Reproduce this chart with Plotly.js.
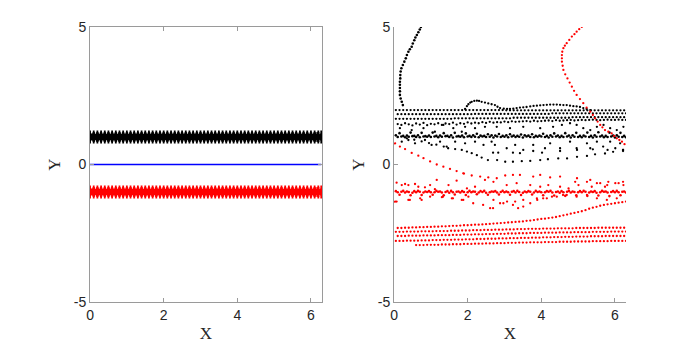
<!DOCTYPE html>
<html>
<head>
<meta charset="utf-8">
<script src="https://cdn.plot.ly/plotly-3.0.1.min.js"></script>
<style>
  html, body { margin: 0; padding: 0; background: #fff; }
  #chart { width: 692px; height: 347px; }
</style>
</head>
<body>
<div id="chart"></div>
<script>
"use strict";

// ---- left panel: x grid and the three flat series
var xLeft = [0,0.1,0.2,0.3,0.4,0.5,0.6,0.7,0.8,0.9,
  1.0,1.1,1.2,1.3,1.4,1.5,1.6,1.7,1.8,1.9,
  2.0,2.1,2.2,2.3,2.4,2.5,2.6,2.7,2.8,2.9,
  3.0,3.1,3.2,3.3,3.4,3.5,3.6,3.7,3.8,3.9,
  4.0,4.1,4.2,4.3,4.4,4.5,4.6,4.7,4.8,4.9,
  5.0,5.1,5.2,5.3,5.4,5.5,5.6,5.7,5.8,5.9,
  6.0,6.1,6.2,6.28];
var yLeftBlack = [1,1,1,1,1,1,1,1,1,1, 1,1,1,1,1,1,1,1,1,1, 1,1,1,1,1,1,1,1,1,1,
  1,1,1,1,1,1,1,1,1,1, 1,1,1,1,1,1,1,1,1,1, 1,1,1,1,1,1,1,1,1,1, 1,1,1,1];
var yLeftBlue = [0,0,0,0,0,0,0,0,0,0, 0,0,0,0,0,0,0,0,0,0, 0,0,0,0,0,0,0,0,0,0,
  0,0,0,0,0,0,0,0,0,0, 0,0,0,0,0,0,0,0,0,0, 0,0,0,0,0,0,0,0,0,0, 0,0,0,0];
var yLeftRed = [-1,-1,-1,-1,-1,-1,-1,-1,-1,-1, -1,-1,-1,-1,-1,-1,-1,-1,-1,-1, -1,-1,-1,-1,-1,-1,-1,-1,-1,-1,
  -1,-1,-1,-1,-1,-1,-1,-1,-1,-1, -1,-1,-1,-1,-1,-1,-1,-1,-1,-1, -1,-1,-1,-1,-1,-1,-1,-1,-1,-1, -1,-1,-1,-1];

// ---- right panel: two x grids shared by the dotted rows
var xA = [0.05,0.15,0.25,0.35,0.45,0.55,0.65,0.75,0.85,0.95,
  1.05,1.15,1.25,1.35,1.45,1.55,1.65,1.75,1.85,1.95,
  2.05,2.15,2.25,2.35,2.45,2.55,2.65,2.75,2.85,2.95,
  3.05,3.15,3.25,3.35,3.45,3.55,3.65,3.75,3.85,3.95,
  4.05,4.15,4.25,4.35,4.45,4.55,4.65,4.75,4.85,4.95,
  5.05,5.15,5.25,5.35,5.45,5.55,5.65,5.75,5.85,5.95,
  6.05,6.15,6.25];
var xB = [0.1,0.2,0.3,0.4,0.5,0.6,0.7,0.8,0.9,1.0,
  1.1,1.2,1.3,1.4,1.5,1.6,1.7,1.8,1.9,2.0,
  2.1,2.2,2.3,2.4,2.5,2.6,2.7,2.8,2.9,3.0,
  3.1,3.2,3.3,3.4,3.5,3.6,3.7,3.8,3.9,4.0,
  4.1,4.2,4.3,4.4,4.5,4.6,4.7,4.8,4.9,5.0,
  5.1,5.2,5.3,5.4,5.5,5.6,5.7,5.8,5.9,6.0,
  6.1,6.2,6.3];

// black rows (upper)
var blackRow1 = [1.98,1.98,1.98,1.98,1.98,1.98,1.98,1.98,1.98,1.98,
  1.98,1.98,1.98,1.98,1.98,1.98,1.98,1.98,1.98,1.98,
  1.98,1.98,1.98,1.98,1.98,1.98,1.98,1.98,1.98,1.98,
  1.97,1.97,1.97,1.97,1.97,1.97,1.97,1.97,1.97,1.97,
  1.97,1.97,1.97,1.97,1.97,1.97,1.97,1.97,1.97,1.97,
  1.97,1.97,1.97,1.97,1.97,1.97,1.97,1.97,1.97,1.97,
  1.97,1.97,1.97];
var blackRow2 = [1.83,1.83,1.83,1.83,1.83,1.83,1.83,1.83,1.83,1.83,
  1.83,1.83,1.83,1.83,1.83,1.83,1.83,1.83,1.83,1.83,
  1.83,1.84,1.84,1.84,1.84,1.84,1.84,1.84,1.84,1.84,
  1.84,1.84,1.84,1.84,1.84,1.84,1.84,1.84,1.84,1.84,
  1.84,1.84,1.86,1.86,1.86,1.86,1.86,1.86,1.86,1.86,
  1.86,1.86,1.86,1.86,1.86,1.86,1.86,1.86,1.86,1.86,
  1.86,1.86,1.86];
var blackRow3 = [1.66,1.66,1.66,1.66,1.66,1.66,1.66,1.66,1.66,1.66,
  1.66,1.66,1.66,1.66,1.66,1.66,1.68,1.68,1.68,1.68,
  1.68,1.68,1.68,1.68,1.68,1.68,1.68,1.68,1.68,1.68,
  1.68,1.68,1.70,1.70,1.70,1.70,1.70,1.70,1.70,1.70,
  1.70,1.70,1.70,1.70,1.70,1.70,1.70,1.70,1.72,1.72,
  1.72,1.72,1.72,1.72,1.72,1.72,1.72,1.72,1.72,1.72,
  1.72,1.72,1.72];
var blackRow4 = [1.47,1.44,1.50,1.46,1.42,1.49,1.45,1.51,1.43,1.48,
  1.46,1.50,1.44,1.49,1.47,1.52,1.45,1.50,1.48,1.53,
  1.49,1.52,1.50,1.54,1.51,1.55,1.52,1.54,1.53,1.56,
  1.54,1.57,1.55,1.56,1.57,1.58,1.56,1.59,1.57,1.58,
  1.59,1.60,1.58,1.61,1.59,1.60,1.61,1.62,1.60,1.61,
  1.62,1.61,1.62,1.63,1.62,1.61,1.62,1.63,1.62,1.62,
  1.63,1.62,1.62];

// black dense band near y = 1
var blackBandA = [1.06,1.14,1.04,1.05,1.16,1.04,1.06,1.15,1.03,1.05,
  1.16,1.04,1.05,1.14,1.04,1.06,1.15,1.03,1.05,1.13,
  1.04,1.06,1.12,1.05,1.04,1.10,1.06,1.05,1.11,1.04,
  1.06,1.10,1.05,1.04,1.09,1.06,1.05,1.10,1.04,1.05,
  1.12,1.04,1.06,1.13,1.05,1.04,1.14,1.05,1.06,1.15,
  1.04,1.05,1.16,1.04,1.06,1.17,1.05,1.04,1.16,1.05,
  1.06,1.15,1.04];
var blackBandB = [1.00,1.02,0.99,1.01,1.03,1.00,0.99,1.02,1.01,1.00,
  1.02,0.99,1.01,1.03,1.00,0.98,1.02,1.01,0.99,1.02,
  1.00,1.01,0.99,1.02,1.00,1.01,0.98,1.02,1.00,1.01,
  0.99,1.02,1.00,1.01,0.98,1.02,1.00,0.99,1.01,1.02,
  1.00,0.98,1.01,1.02,0.99,1.00,1.02,0.98,1.01,1.00,
  0.99,1.02,1.00,0.98,1.01,1.02,0.99,1.00,1.02,0.98,
  1.01,1.00,0.99];

// black curve rising out of the top-left
var blackCurveX = [0.24,0.21,0.18,0.16,0.16,0.16,0.16,0.16,0.17,0.17,
  0.18,0.20,0.24,0.28,0.32,0.35,0.39,0.43,0.48,0.51,0.55,0.58,0.62,0.66,0.70,0.73];
var blackCurveY = [2.16,2.28,2.40,2.53,2.66,2.78,2.90,3.01,3.13,3.25,
  3.38,3.50,3.62,3.74,3.86,3.98,4.10,4.19,4.28,4.40,4.52,4.62,4.71,4.81,4.91,5.00];

// black hump above the rows
var blackHumpX = [1.93,1.98,2.02,2.07,2.11,2.18,2.25,2.31,2.38,2.47,
  2.56,2.65,2.74,2.81,2.88,2.98,3.07,3.15,3.24,3.33,
  3.42,3.51,3.60,3.70,3.79,3.88,3.97,4.06,4.15,4.24,
  4.33,4.42,4.51,4.60,4.69,4.78,4.87,4.96,5.05,5.14,5.23,5.33];
var blackHumpY = [2.02,2.12,2.19,2.25,2.28,2.31,2.32,2.31,2.28,2.25,
  2.22,2.19,2.16,2.10,2.05,2.03,2.02,2.02,2.03,2.05,
  2.07,2.08,2.09,2.11,2.13,2.14,2.15,2.16,2.17,2.18,
  2.18,2.18,2.17,2.16,2.16,2.14,2.12,2.11,2.09,2.05,2.02,1.98];

// black curves below the band
var blackLowX = [0.35,0.55,0.75,0.95,1.15,1.35,1.47,1.66,1.84,1.98,
  2.11,2.25,2.38,2.55,2.80,3.02,3.23,3.47,3.70,3.97,
  4.18,4.46,4.70,4.97,5.24,5.46,5.73,5.95,6.22,
  2.69,2.83,3.23,3.42,3.78,4.02,4.51,4.97,5.40,5.80,6.22];
var blackLowY = [0.95,0.90,0.84,0.78,0.72,0.65,0.59,0.56,0.53,0.47,
  0.41,0.34,0.25,0.16,0.16,0.10,0.10,0.12,0.13,0.16,
  0.19,0.22,0.22,0.28,0.31,0.37,0.40,0.46,0.49,
  0.43,0.43,0.43,0.41,0.49,0.43,0.49,0.53,0.55,0.53,0.53];

// loose black dots round the band
var blackLooseX = [2.74,3.06,3.29,3.51,3.78,4.10,4.24,4.51,4.78,4.96,5.24,5.33,5.51,5.68,5.87,6.01,6.14,6.22,
  2.79,3.15,3.51,3.97,4.32,4.56,4.78,4.96,5.14,5.33,5.51,5.69,5.87,6.05,6.23,
  0.16,0.48,0.80,1.11,1.34,1.61,1.84,1.93,2.20,2.47,
  0.21,0.39,0.57,0.84,1.02,1.25,1.43,1.66,1.93,2.20,2.43,2.65];
var blackLooseY = [0.71,0.59,0.71,0.53,0.71,0.59,0.77,0.59,0.83,0.59,0.77,0.59,0.83,0.65,0.83,0.59,0.77,0.53,
  1.37,1.32,1.37,1.32,1.37,1.44,1.50,1.44,1.32,1.25,1.37,1.44,1.32,1.25,1.37,
  1.32,1.25,1.32,1.19,1.44,1.32,1.19,1.37,1.32,1.37,
  0.83,0.89,0.77,0.89,0.71,0.83,0.65,0.83,0.77,0.83,0.71,0.83];

// red curve coming down from the top right
var redCurveX = [5.10,5.03,4.96,4.90,4.83,4.76,4.69,4.64,4.60,4.57,
  4.56,4.56,4.56,4.58,4.60,4.65,4.71,4.77,4.83,4.89,
  4.96,5.05,5.14,5.23,5.33,5.40,5.46,5.53,5.60,5.66,
  5.73,5.82,5.91,5.98,6.05,6.12,6.19,6.26];
var redCurveY = [5.01,4.92,4.83,4.74,4.65,4.53,4.41,4.32,4.23,4.10,
  3.98,3.86,3.74,3.59,3.44,3.28,3.13,2.98,2.83,2.68,
  2.53,2.38,2.23,2.07,1.92,1.80,1.68,1.56,1.44,1.35,
  1.25,1.19,1.13,1.04,0.95,0.89,0.83,0.74];

// red curve falling from the left edge
var redFallX = [0.03,0.16,0.30,0.48,0.66,0.80,0.98,1.16,1.34,1.52,
  1.70,1.90,2.11,2.34,2.56,2.79,3.02,3.23,3.42,3.78,
  3.97,4.24,4.51,4.97,5.33,5.60,5.79,6.01,6.22];
var redFallY = [0.77,0.65,0.56,0.42,0.32,0.23,0.11,0.00,-0.08,-0.16,
  -0.24,-0.33,-0.40,-0.44,-0.47,-0.50,-0.40,-0.38,-0.38,-0.44,
  -0.38,-0.47,-0.44,-0.50,-0.56,-0.68,-0.75,-0.68,-0.63];

// red dense band near y = -1
var redBandA = [-0.97,-1.10,-0.96,-0.98,-1.12,-0.97,-0.96,-1.11,-0.98,-0.97,
  -1.10,-0.96,-0.98,-1.12,-0.97,-0.96,-1.09,-0.98,-0.97,-1.11,
  -0.96,-0.98,-1.08,-0.97,-0.96,-1.10,-0.98,-0.97,-1.09,-0.96,
  -0.98,-1.10,-0.97,-0.96,-1.11,-0.98,-0.97,-1.09,-0.96,-0.98,
  -1.12,-0.97,-0.96,-1.13,-0.98,-0.97,-1.14,-0.96,-0.98,-1.12,
  -0.97,-0.96,-1.14,-0.98,-0.97,-1.13,-0.96,-0.98,-1.15,-0.97,
  -0.96,-1.12,-0.98];
var redBandB = [-1.01,-0.99,-1.02,-1.00,-1.03,-1.01,-0.99,-1.02,-1.00,-1.01,
  -1.01,-0.99,-1.02,-1.00,-1.03,-1.01,-0.99,-1.02,-1.00,-1.01,
  -1.01,-0.99,-1.02,-1.00,-1.03,-1.01,-0.99,-1.02,-1.00,-1.01,
  -1.01,-0.99,-1.02,-1.00,-1.03,-1.01,-0.99,-1.02,-1.00,-1.01,
  -1.01,-0.99,-1.02,-1.00,-1.03,-1.01,-0.99,-1.02,-1.00,-1.01,
  -1.01,-0.99,-1.02,-1.00,-1.03,-1.01,-0.99,-1.02,-1.00,-1.01,
  -1.01,-0.99,-1.02];

// red curve dipping under the band
var redDipX = [0.03,0.43,0.71,0.98,1.33,1.60,1.88,2.15,2.42,2.61,
  2.69,2.88,3.07,3.23,3.37,3.51,3.70,3.89,4.05,4.29,4.59];
var redDipY = [-1.35,-1.29,-1.23,-1.17,-1.17,-1.23,-1.29,-1.41,-1.47,-1.59,
  -1.59,-1.41,-1.35,-1.47,-1.59,-1.53,-1.41,-1.29,-1.23,-1.17,-1.11];

// loose red dots round the band
var redLooseX = [0.07,0.21,0.30,0.39,0.57,0.66,0.84,0.98,1.16,1.11,1.48,1.70,1.88,1.98,2.20,2.47,
  2.70,3.06,3.33,3.70,3.97,4.19,4.51,4.74,5.01,5.24,5.37,5.51,5.73,6.10,4.92,5.82,6.23,
  0.07,0.39,0.75,1.30,1.57,1.84,2.02,
  2.70,2.97,3.29,3.51,3.88,4.15,4.42,4.69,4.96,5.24,5.51,5.78,6.05];
var redLooseY = [-0.66,-0.75,-0.71,-0.75,-0.71,-0.81,-0.83,-0.75,-0.56,-0.90,-0.75,-0.59,-0.32,-0.87,-0.81,-0.56,
  -0.63,-0.75,-0.68,-0.75,-0.81,-0.75,-0.81,-0.87,-0.75,-0.63,-0.81,-0.68,-0.81,-0.68,-0.63,-0.63,-0.75,
  -1.35,-1.29,-1.29,-1.19,-1.23,-1.29,-1.17,
  -1.29,-1.41,-1.35,-1.29,-1.23,-1.23,-1.17,-1.11,-1.17,-1.11,-1.23,-1.29,-1.23];

// red rows (lower)
var redRow1 = [-2.31,-2.31,-2.30,-2.30,-2.29,-2.29,-2.28,-2.28,-2.27,-2.27,
  -2.26,-2.26,-2.25,-2.25,-2.24,-2.23,-2.23,-2.22,-2.21,-2.21,
  -2.20,-2.19,-2.19,-2.18,-2.17,-2.16,-2.15,-2.14,-2.13,-2.12,
  -2.11,-2.10,-2.09,-2.08,-2.07,-2.05,-2.04,-2.02,-2.00,-1.98,
  -1.97,-1.95,-1.93,-1.91,-1.88,-1.85,-1.82,-1.79,-1.76,-1.73,
  -1.70,-1.66,-1.61,-1.57,-1.54,-1.50,-1.47,-1.45,-1.43,-1.41,
  -1.39,-1.37,-1.35];
var redRow2 = [-2.45,-2.45,-2.45,-2.44,-2.44,-2.44,-2.44,-2.43,-2.43,-2.43,
  -2.43,-2.42,-2.42,-2.42,-2.42,-2.41,-2.41,-2.41,-2.40,-2.40,
  -2.40,-2.39,-2.39,-2.39,-2.38,-2.38,-2.38,-2.37,-2.37,-2.37,
  -2.36,-2.36,-2.36,-2.35,-2.35,-2.35,-2.34,-2.34,-2.34,-2.34,
  -2.33,-2.33,-2.33,-2.33,-2.32,-2.32,-2.32,-2.32,-2.32,-2.31,
  -2.31,-2.31,-2.31,-2.31,-2.31,-2.30,-2.30,-2.30,-2.30,-2.30,
  -2.30,-2.30,-2.30];
var redRow3 = [-2.60,-2.60,-2.60,-2.59,-2.59,-2.59,-2.59,-2.58,-2.58,-2.58,
  -2.58,-2.57,-2.57,-2.57,-2.57,-2.56,-2.56,-2.56,-2.55,-2.55,
  -2.55,-2.54,-2.54,-2.54,-2.53,-2.53,-2.53,-2.52,-2.52,-2.52,
  -2.51,-2.51,-2.51,-2.50,-2.50,-2.50,-2.49,-2.49,-2.49,-2.49,
  -2.48,-2.48,-2.48,-2.48,-2.47,-2.47,-2.47,-2.47,-2.46,-2.46,
  -2.46,-2.46,-2.46,-2.45,-2.45,-2.45,-2.45,-2.45,-2.44,-2.44,
  -2.44,-2.44,-2.44];
var redRow4 = [-2.78,-2.78,-2.78,-2.77,-2.77,-2.77,-2.77,-2.76,-2.76,-2.76,
  -2.75,-2.75,-2.75,-2.74,-2.74,-2.74,-2.73,-2.73,-2.73,-2.72,
  -2.72,-2.72,-2.71,-2.71,-2.71,-2.70,-2.70,-2.70,-2.69,-2.69,
  -2.69,-2.68,-2.68,-2.68,-2.67,-2.67,-2.67,-2.66,-2.66,-2.66,
  -2.65,-2.65,-2.65,-2.64,-2.64,-2.64,-2.63,-2.63,-2.63,-2.62,
  -2.62,-2.62,-2.62,-2.61,-2.61,-2.61,-2.61,-2.60,-2.60,-2.60,
  -2.60,-2.60,-2.60];
var redRow5 = [null,null,null,null,null,-2.93,-2.93,-2.93,-2.92,-2.92,
  -2.92,-2.92,-2.91,-2.91,-2.91,-2.90,-2.90,-2.90,-2.89,-2.89,
  -2.89,-2.88,-2.88,-2.88,-2.87,-2.87,-2.87,-2.86,-2.86,-2.86,
  -2.85,-2.85,-2.85,-2.84,-2.84,-2.84,-2.83,-2.83,-2.83,-2.83,
  -2.82,-2.82,-2.82,-2.82,-2.81,-2.81,-2.81,-2.81,-2.80,-2.80,
  -2.80,-2.80,-2.80,-2.79,-2.79,-2.79,-2.79,-2.79,-2.78,-2.78,
  -2.78,-2.78,-2.78];

var yTicks = [-5, 0, 5];
var yTickLabels = ["-5", "0", "5"];
var xTicks = [0, 2, 4, 6];

function Dots(x, y, color, size) {
    return {
        x: x, y: y, xaxis: "x2", yaxis: "y2",
        type: "scatter", mode: "markers", hoverinfo: "skip", showlegend: false,
        marker: { color: color, size: size, symbol: "circle", line: { width: 0 } }
    };
}

var traces = [];
traces.push({
    x: xLeft, y: yLeftBlack, type: "scatter", mode: "markers", showlegend: false, hoverinfo: "skip",
    marker: { symbol: "asterisk-open", size: 11, color: "#000000", line: { color: "#000000", width: 1.8 } }
});
traces.push({
    x: xLeft, y: yLeftBlue, type: "scatter", mode: "lines", showlegend: false, hoverinfo: "skip",
    line: { color: "#0000ff", width: 1.6 }
});
traces.push({
    x: xLeft, y: yLeftRed, type: "scatter", mode: "markers", showlegend: false, hoverinfo: "skip",
    marker: { symbol: "asterisk-open", size: 11, color: "#ff0000", line: { color: "#ff0000", width: 1.8 } }
});

var dot = 2.3;
traces.push(Dots(xA, blackRow1, "#000", dot));
traces.push(Dots(xB, blackRow2, "#000", dot));
traces.push(Dots(xA, blackRow3, "#000", dot));
traces.push(Dots(xB, blackRow4, "#000", dot));
traces.push(Dots(xA, blackBandA, "#000", 2.6));
traces.push(Dots(xB, blackBandB, "#000", 2.6));
traces.push(Dots(blackCurveX, blackCurveY, "#000", 2.6));
traces.push(Dots(blackHumpX, blackHumpY, "#000", dot));
traces.push(Dots(blackLowX, blackLowY, "#000", dot));
traces.push(Dots(blackLooseX, blackLooseY, "#000", dot));

traces.push(Dots(redCurveX, redCurveY, "#ff0000", dot));
traces.push(Dots(redFallX, redFallY, "#ff0000", dot));
traces.push(Dots(xA, redBandA, "#ff0000", 2.6));
traces.push(Dots(xB, redBandB, "#ff0000", 2.6));
traces.push(Dots(redDipX, redDipY, "#ff0000", dot));
traces.push(Dots(redLooseX, redLooseY, "#ff0000", dot));
traces.push(Dots(xB, redRow1, "#ff0000", dot));
traces.push(Dots(xA, redRow2, "#ff0000", dot));
traces.push(Dots(xB, redRow3, "#ff0000", dot));
traces.push(Dots(xA, redRow4, "#ff0000", dot));
traces.push(Dots(xB, redRow5, "#ff0000", dot));

var tickFont = { family: "Liberation Sans, Arial, sans-serif", size: 14, color: "#262626" };
var titleFont = { family: "Liberation Serif, Times New Roman, serif", size: 17, color: "#262626" };

function XAxis(domain, anchor, mirror) {
    return {
        domain: domain, anchor: anchor, range: [0, 6.3], tickvals: xTicks,
        ticks: "inside", ticklen: 4, tickcolor: "#9a9a9a", tickwidth: 1,
        showline: true, linecolor: "#9a9a9a", linewidth: 1, mirror: mirror,
        showgrid: false, zeroline: false, tickfont: tickFont,
        title: { text: "X", font: titleFont, standoff: 5 }
    };
}
function YAxis(anchor, mirror) {
    return {
        domain: [0.1297, 0.9222], anchor: anchor, range: [-5, 5],
        tickvals: yTicks, ticktext: yTickLabels,
        ticks: "inside", ticklen: 4, tickcolor: "#9a9a9a", tickwidth: 1,
        showline: true, linecolor: "#9a9a9a", linewidth: 1, mirror: mirror,
        showgrid: false, zeroline: false, tickfont: tickFont,
        title: { text: "Y", font: titleFont, standoff: 8 }
    };
}

var layout = {
    width: 692, height: 347,
    margin: { l: 0, r: 0, t: 0, b: 0 },
    paper_bgcolor: "#ffffff", plot_bgcolor: "#ffffff",
    showlegend: false, hovermode: false,
    xaxis: XAxis([0.1301, 0.4653], "y", "allticks"),
    yaxis: YAxis("x", "allticks"),
    xaxis2: XAxis([0.5694, 0.9046], "y2", false),
    yaxis2: YAxis("x2", false)
};

Plotly.newPlot("chart", traces, layout, { staticPlot: true, displayModeBar: false });
</script>
</body>
</html>
